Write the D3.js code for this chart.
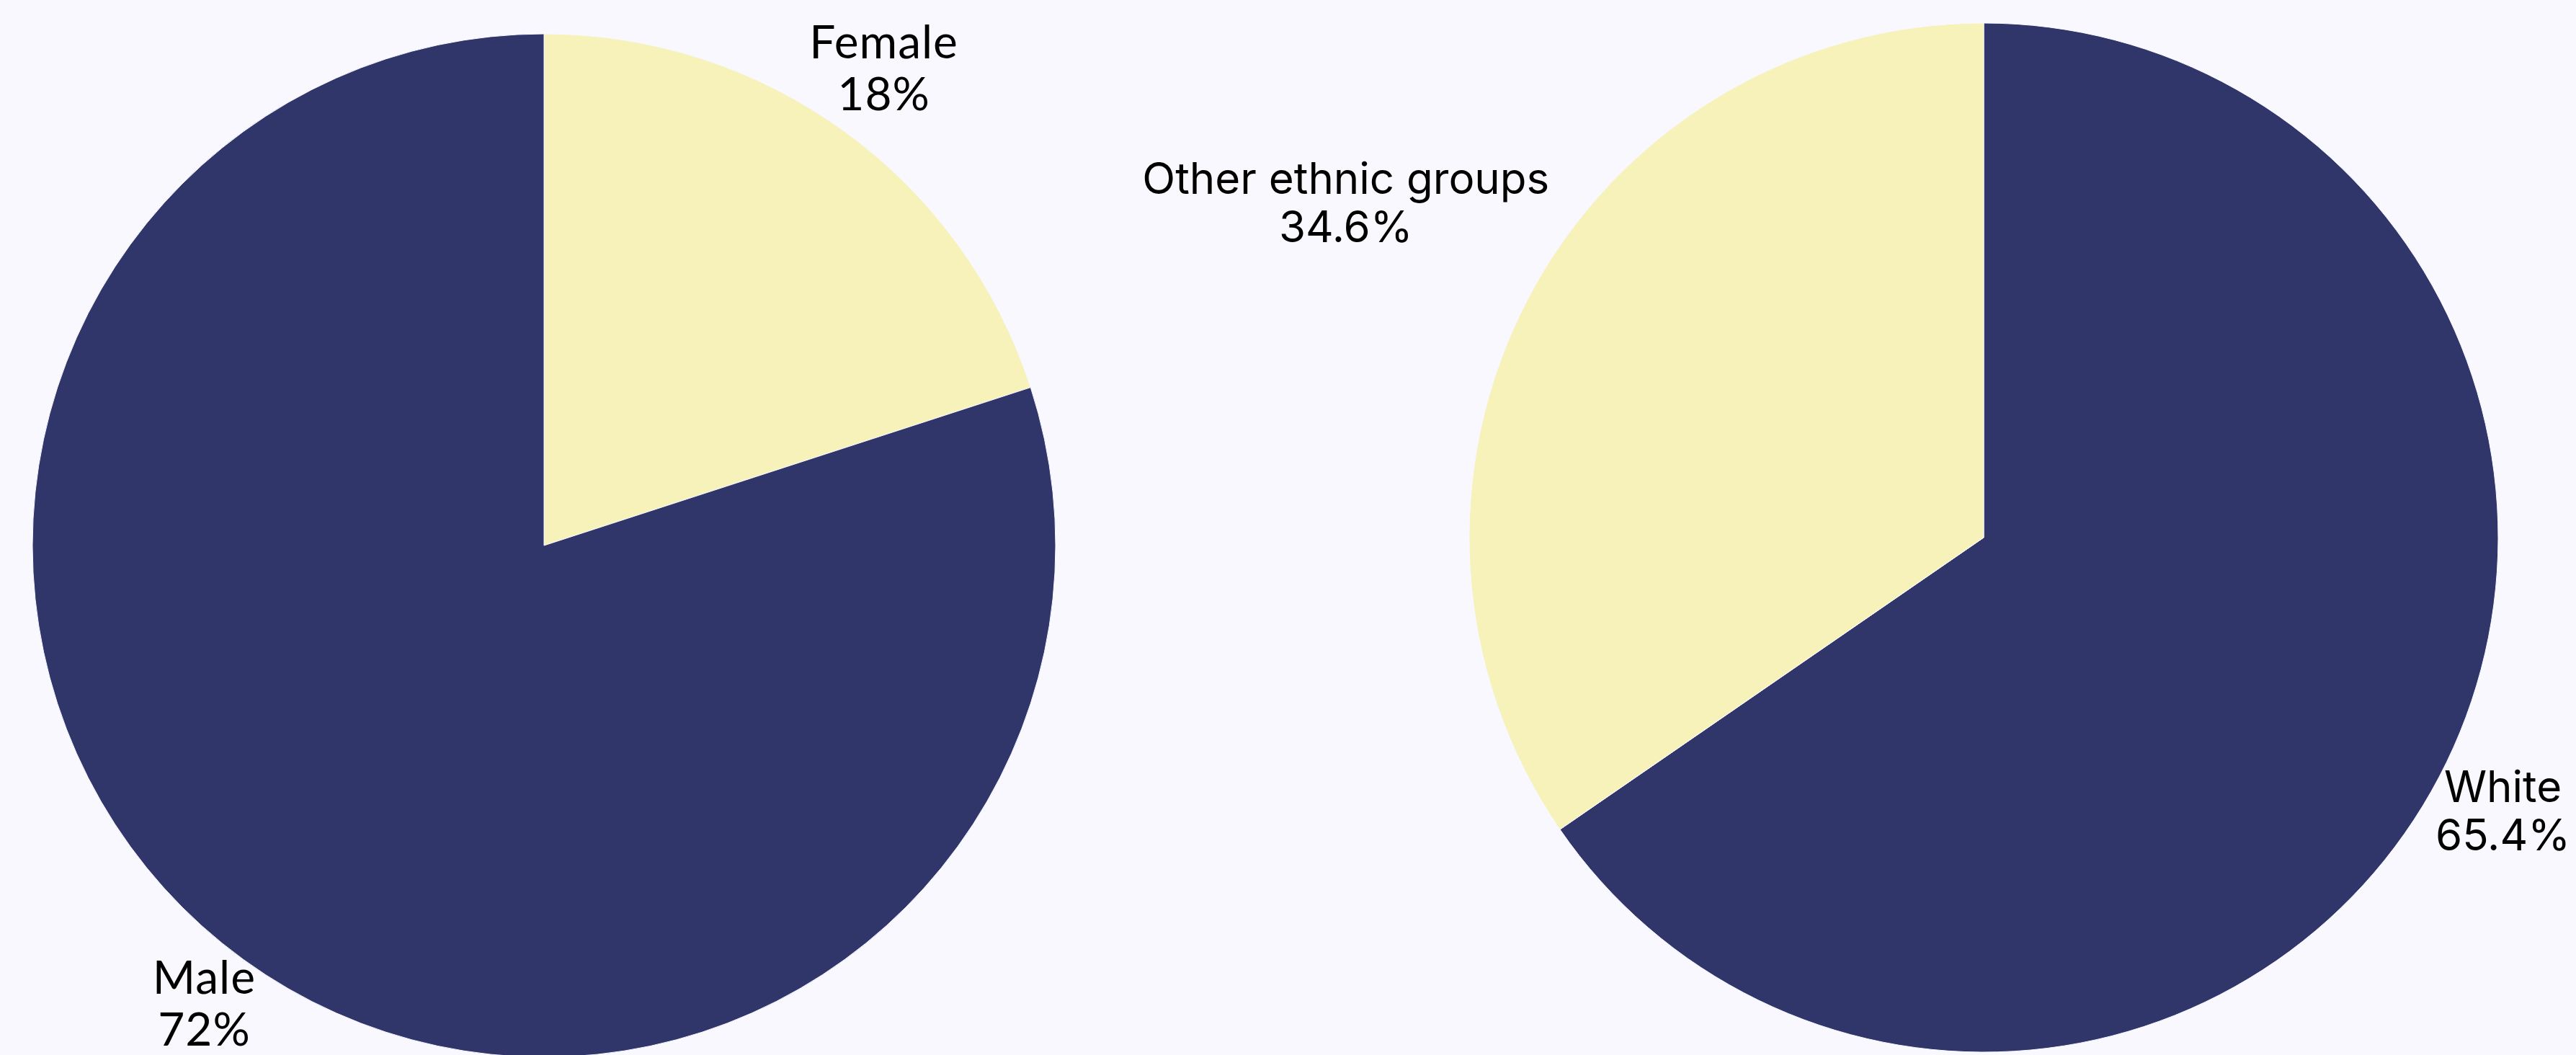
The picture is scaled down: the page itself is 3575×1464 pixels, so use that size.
<!DOCTYPE html>
<meta charset="utf-8">
<head>
<style>
  html, body { margin: 0; padding: 0; background: #f8f8fe; }
  svg { display: block; }
  .lbl-left { font-family: Lato, "Noto Sans", sans-serif; font-size: 64px; letter-spacing: 1px; fill: #000; }
  .lbl-right { font-family: Inter, "Noto Sans", sans-serif; font-size: 60px; fill: #000; }
</style>
</head>
<body>
<script src="https://cdn.jsdelivr.net/npm/d3@7"></script>
<script>
// data
var genderLabels = ["Female", "Male"];
var genderValues = [18, 72];
var ethnicLabels = ["White", "Other ethnic groups"];
var ethnicValues = [65.4, 34.6];

var width = 3575, height = 1464;
var colors = ["#f6f2b9", "#30356a"];  // first slice yellow on the left pie
var svg = d3.select("body").append("svg")
    .attr("width", width)
    .attr("height", height);

svg.append("rect").attr("width", width).attr("height", height).attr("fill", "#f8f8fe");

function drawPie(labels, values, cx, cy, r, fills, cls, fs, lr, lift) {
    var data = labels.map(function(l, i) { return { label: l, value: values[i] }; });
    var pie = d3.pie().sort(null).value(function(d) { return d.value; });
    var arc = d3.arc().innerRadius(0).outerRadius(r);
    var arcs = pie(data);

    var g = svg.append("g").attr("transform", "translate(" + cx + "," + cy + ")");
    g.selectAll("path")
        .data(arcs)
        .enter().append("path")
        .attr("d", arc)
        .attr("fill", function(d, i) { return fills[i]; })
        .attr("stroke", "#f8f8fe")
        .attr("stroke-width", 1);

    // labels sit just outside the rim, pushed further out if they overlap the pie
    arcs.forEach(function(d) {
        var t = g.append("text").attr("class", cls).attr("text-anchor", "middle");
        t.append("tspan").attr("x", 0).attr("dy", "-0.15em").text(d.data.label);
        t.append("tspan").attr("x", 0).attr("dy", "1.12em").text(d.data.value + "%");
        var bb = t.node().getBBox();
        var top = -0.87 * fs, bottom = 0.97 * fs;   // cap top of line 1 .. baseline of line 2
        var mid = (d.startAngle + d.endAngle) / 2;
        var ux = Math.sin(mid), uy = -Math.cos(mid);
        var rr = r * lr;
        function place() {
            return [ux * rr, uy * rr - (top + bottom) / 2 - lift];
        }
        function nearest(p) {
            var nx = Math.max(bb.x + p[0], Math.min(0, bb.x + p[0] + bb.width));
            var ny = Math.max(top + p[1], Math.min(0, bottom + p[1]));
            return Math.sqrt(nx * nx + ny * ny);
        }
        var p = place();
        if (nearest(p) < r * 0.97) {
            while (nearest(p) < r * 1.02) { rr += 2; p = place(); }
        }
        t.attr("transform", "translate(" + p[0] + "," + p[1] + ")");
    });
}

drawPie(genderLabels, genderValues, 755, 757, 710, colors, "lbl-left", 64, 1.13, 14);
drawPie(ethnicLabels, ethnicValues, 2753, 746, 714, [colors[1], colors[0]], "lbl-right", 60, 1.14, 0);
</script>
</body>
